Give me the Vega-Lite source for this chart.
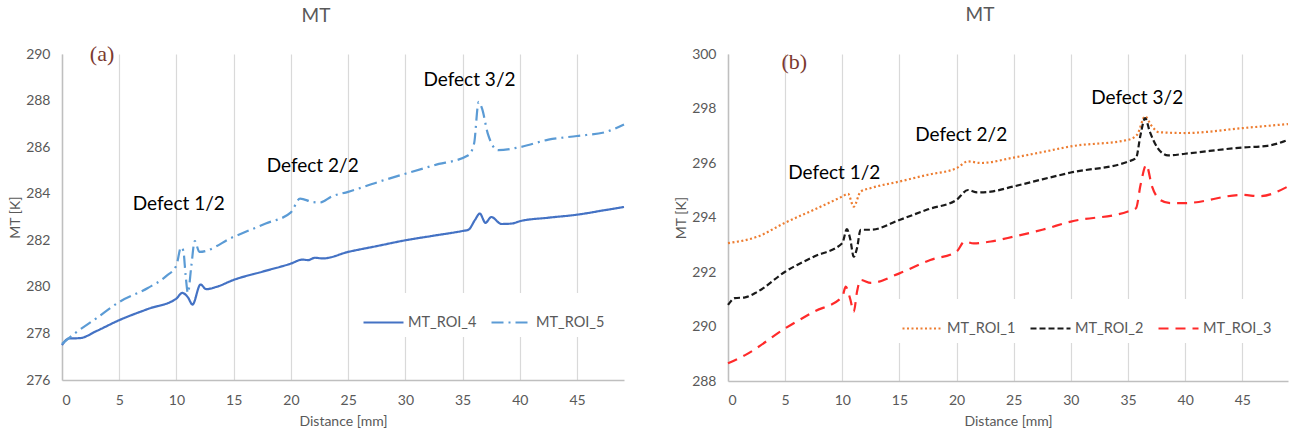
{
  "$schema": "https://vega.github.io/schema/vega-lite/v6.json",
  "padding": {"left": 8, "top": 6, "right": 4, "bottom": 2},
  "spacing": 45,
  "config": {
    "font": "Lato",
    "view": {"stroke": null},
    "axis": {
      "labelColor": "#595959", "titleColor": "#595959", "labelFont": "Lato", "titleFont": "Lato",
      "labelFontSize": 14, "titleFontSize": 14, "titleFontWeight": "normal",
      "domainColor": "#BFBFBF", "domainWidth": 1.5, "ticks": false, "gridColor": "#D9D9D9", "gridWidth": 1.2
    },
    "legend": {
      "labelFont": "Lato", "labelFontSize": 14.5, "labelColor": "#595959", "symbolType": "stroke",
      "symbolSize": 1600, "symbolStrokeWidth": 2.2, "labelOffset": 3, "columnPadding": 10,
      "fillColor": "white", "padding": 8, "direction": "horizontal", "orient": "none", "title": null
    }
  },
  "resolve": {
    "scale": {"x": "independent", "y": "independent", "color": "independent", "strokeDash": "independent"},
    "legend": {"color": "independent", "strokeDash": "independent"}
  },
  "datasets": {
    "a": [
      {"series": "MT_ROI_4", "d": 0, "mt": 277.5},
      {"series": "MT_ROI_4", "d": 0.6, "mt": 277.78},
      {"series": "MT_ROI_4", "d": 1.6, "mt": 277.8},
      {"series": "MT_ROI_4", "d": 3, "mt": 278.1},
      {"series": "MT_ROI_4", "d": 5, "mt": 278.57},
      {"series": "MT_ROI_4", "d": 7.5, "mt": 279.05},
      {"series": "MT_ROI_4", "d": 10, "mt": 279.5},
      {"series": "MT_ROI_4", "d": 10.5, "mt": 279.74},
      {"series": "MT_ROI_4", "d": 11, "mt": 279.55},
      {"series": "MT_ROI_4", "d": 11.4, "mt": 279.24},
      {"series": "MT_ROI_4", "d": 12.1, "mt": 280.1},
      {"series": "MT_ROI_4", "d": 12.6, "mt": 279.9},
      {"series": "MT_ROI_4", "d": 13.5, "mt": 280.0},
      {"series": "MT_ROI_4", "d": 15, "mt": 280.3},
      {"series": "MT_ROI_4", "d": 17.5, "mt": 280.65},
      {"series": "MT_ROI_4", "d": 20, "mt": 281.0},
      {"series": "MT_ROI_4", "d": 21, "mt": 281.17},
      {"series": "MT_ROI_4", "d": 21.5, "mt": 281.15},
      {"series": "MT_ROI_4", "d": 22.1, "mt": 281.25},
      {"series": "MT_ROI_4", "d": 22.8, "mt": 281.22},
      {"series": "MT_ROI_4", "d": 25, "mt": 281.5},
      {"series": "MT_ROI_4", "d": 27.5, "mt": 281.75},
      {"series": "MT_ROI_4", "d": 30, "mt": 282.0},
      {"series": "MT_ROI_4", "d": 32.5, "mt": 282.2},
      {"series": "MT_ROI_4", "d": 35, "mt": 282.4},
      {"series": "MT_ROI_4", "d": 35.5, "mt": 282.45},
      {"series": "MT_ROI_4", "d": 36.1, "mt": 282.89},
      {"series": "MT_ROI_4", "d": 36.5, "mt": 283.15},
      {"series": "MT_ROI_4", "d": 37, "mt": 282.75},
      {"series": "MT_ROI_4", "d": 37.5, "mt": 283.0},
      {"series": "MT_ROI_4", "d": 38.4, "mt": 282.7},
      {"series": "MT_ROI_4", "d": 39.3, "mt": 282.72},
      {"series": "MT_ROI_4", "d": 40, "mt": 282.82},
      {"series": "MT_ROI_4", "d": 42.5, "mt": 282.97},
      {"series": "MT_ROI_4", "d": 45, "mt": 283.1},
      {"series": "MT_ROI_4", "d": 47.5, "mt": 283.3},
      {"series": "MT_ROI_4", "d": 49.1, "mt": 283.43},
      {"series": "MT_ROI_5", "d": 0, "mt": 277.55},
      {"series": "MT_ROI_5", "d": 1.2, "mt": 278.03},
      {"series": "MT_ROI_5", "d": 3, "mt": 278.65},
      {"series": "MT_ROI_5", "d": 5, "mt": 279.35},
      {"series": "MT_ROI_5", "d": 7.5, "mt": 279.95},
      {"series": "MT_ROI_5", "d": 9.1, "mt": 280.46},
      {"series": "MT_ROI_5", "d": 10, "mt": 280.93},
      {"series": "MT_ROI_5", "d": 10.4, "mt": 281.7},
      {"series": "MT_ROI_5", "d": 10.6, "mt": 281.55},
      {"series": "MT_ROI_5", "d": 10.8, "mt": 280.5},
      {"series": "MT_ROI_5", "d": 11, "mt": 279.74},
      {"series": "MT_ROI_5", "d": 11.3, "mt": 280.9},
      {"series": "MT_ROI_5", "d": 11.6, "mt": 281.97},
      {"series": "MT_ROI_5", "d": 12, "mt": 281.5},
      {"series": "MT_ROI_5", "d": 15, "mt": 282.15},
      {"series": "MT_ROI_5", "d": 17.8, "mt": 282.72},
      {"series": "MT_ROI_5", "d": 20, "mt": 283.2},
      {"series": "MT_ROI_5", "d": 20.8, "mt": 283.79},
      {"series": "MT_ROI_5", "d": 21.9, "mt": 283.64},
      {"series": "MT_ROI_5", "d": 22.5, "mt": 283.62},
      {"series": "MT_ROI_5", "d": 23.6, "mt": 283.89},
      {"series": "MT_ROI_5", "d": 25, "mt": 284.08},
      {"series": "MT_ROI_5", "d": 27.6, "mt": 284.5},
      {"series": "MT_ROI_5", "d": 30, "mt": 284.86},
      {"series": "MT_ROI_5", "d": 32.5, "mt": 285.22},
      {"series": "MT_ROI_5", "d": 35.5, "mt": 285.65},
      {"series": "MT_ROI_5", "d": 36, "mt": 286.15},
      {"series": "MT_ROI_5", "d": 36.4, "mt": 287.94},
      {"series": "MT_ROI_5", "d": 36.7, "mt": 287.65},
      {"series": "MT_ROI_5", "d": 37.2, "mt": 286.58},
      {"series": "MT_ROI_5", "d": 38.1, "mt": 285.87},
      {"series": "MT_ROI_5", "d": 40, "mt": 286.0},
      {"series": "MT_ROI_5", "d": 42.5, "mt": 286.32},
      {"series": "MT_ROI_5", "d": 45, "mt": 286.48},
      {"series": "MT_ROI_5", "d": 47.5, "mt": 286.65},
      {"series": "MT_ROI_5", "d": 49.1, "mt": 286.97}
    ],
    "b": [
      {"series": "MT_ROI_1", "d": 0, "mt": 293.06},
      {"series": "MT_ROI_1", "d": 2.6, "mt": 293.3},
      {"series": "MT_ROI_1", "d": 5, "mt": 293.81},
      {"series": "MT_ROI_1", "d": 7.5, "mt": 294.28},
      {"series": "MT_ROI_1", "d": 10, "mt": 294.77},
      {"series": "MT_ROI_1", "d": 10.5, "mt": 294.87},
      {"series": "MT_ROI_1", "d": 11, "mt": 294.4},
      {"series": "MT_ROI_1", "d": 11.6, "mt": 294.95},
      {"series": "MT_ROI_1", "d": 12.5, "mt": 295.08},
      {"series": "MT_ROI_1", "d": 15, "mt": 295.32},
      {"series": "MT_ROI_1", "d": 17.5, "mt": 295.57},
      {"series": "MT_ROI_1", "d": 20, "mt": 295.81},
      {"series": "MT_ROI_1", "d": 21, "mt": 296.06},
      {"series": "MT_ROI_1", "d": 22.1, "mt": 296.0},
      {"series": "MT_ROI_1", "d": 25, "mt": 296.2},
      {"series": "MT_ROI_1", "d": 27.5, "mt": 296.4},
      {"series": "MT_ROI_1", "d": 30, "mt": 296.61},
      {"series": "MT_ROI_1", "d": 35, "mt": 296.85},
      {"series": "MT_ROI_1", "d": 35.8, "mt": 297.04},
      {"series": "MT_ROI_1", "d": 36.5, "mt": 297.71},
      {"series": "MT_ROI_1", "d": 37, "mt": 297.4},
      {"series": "MT_ROI_1", "d": 37.7, "mt": 297.13},
      {"series": "MT_ROI_1", "d": 40, "mt": 297.1},
      {"series": "MT_ROI_1", "d": 45, "mt": 297.28},
      {"series": "MT_ROI_1", "d": 49, "mt": 297.43},
      {"series": "MT_ROI_2", "d": 0, "mt": 290.79},
      {"series": "MT_ROI_2", "d": 0.6, "mt": 291.04},
      {"series": "MT_ROI_2", "d": 1.5, "mt": 291.07},
      {"series": "MT_ROI_2", "d": 2.6, "mt": 291.28},
      {"series": "MT_ROI_2", "d": 5, "mt": 292.01},
      {"series": "MT_ROI_2", "d": 7.5, "mt": 292.56},
      {"series": "MT_ROI_2", "d": 10, "mt": 293.06},
      {"series": "MT_ROI_2", "d": 10.4, "mt": 293.57},
      {"series": "MT_ROI_2", "d": 10.7, "mt": 293.2},
      {"series": "MT_ROI_2", "d": 11, "mt": 292.56},
      {"series": "MT_ROI_2", "d": 11.3, "mt": 292.9},
      {"series": "MT_ROI_2", "d": 11.6, "mt": 293.55},
      {"series": "MT_ROI_2", "d": 12.5, "mt": 293.55},
      {"series": "MT_ROI_2", "d": 15, "mt": 293.91},
      {"series": "MT_ROI_2", "d": 17.5, "mt": 294.3},
      {"series": "MT_ROI_2", "d": 20, "mt": 294.65},
      {"series": "MT_ROI_2", "d": 21, "mt": 295.01},
      {"series": "MT_ROI_2", "d": 21.8, "mt": 294.92},
      {"series": "MT_ROI_2", "d": 23, "mt": 294.95},
      {"series": "MT_ROI_2", "d": 25, "mt": 295.14},
      {"series": "MT_ROI_2", "d": 27.5, "mt": 295.4},
      {"series": "MT_ROI_2", "d": 30, "mt": 295.65},
      {"series": "MT_ROI_2", "d": 35, "mt": 296.05},
      {"series": "MT_ROI_2", "d": 35.7, "mt": 296.18},
      {"series": "MT_ROI_2", "d": 36.1, "mt": 297.04},
      {"series": "MT_ROI_2", "d": 36.5, "mt": 297.65},
      {"series": "MT_ROI_2", "d": 36.9, "mt": 297.16},
      {"series": "MT_ROI_2", "d": 37.6, "mt": 296.55},
      {"series": "MT_ROI_2", "d": 38.5, "mt": 296.28},
      {"series": "MT_ROI_2", "d": 40, "mt": 296.34},
      {"series": "MT_ROI_2", "d": 45, "mt": 296.57},
      {"series": "MT_ROI_2", "d": 47.2, "mt": 296.63},
      {"series": "MT_ROI_2", "d": 49, "mt": 296.85},
      {"series": "MT_ROI_3", "d": 0, "mt": 288.65},
      {"series": "MT_ROI_3", "d": 1.5, "mt": 288.95},
      {"series": "MT_ROI_3", "d": 5, "mt": 289.93},
      {"series": "MT_ROI_3", "d": 7.5, "mt": 290.54},
      {"series": "MT_ROI_3", "d": 10, "mt": 291.09},
      {"series": "MT_ROI_3", "d": 10.3, "mt": 291.46},
      {"series": "MT_ROI_3", "d": 10.7, "mt": 291.0},
      {"series": "MT_ROI_3", "d": 11, "mt": 290.54},
      {"series": "MT_ROI_3", "d": 11.3, "mt": 291.3},
      {"series": "MT_ROI_3", "d": 11.6, "mt": 291.71},
      {"series": "MT_ROI_3", "d": 12.5, "mt": 291.6},
      {"series": "MT_ROI_3", "d": 15, "mt": 291.95},
      {"series": "MT_ROI_3", "d": 17.7, "mt": 292.44},
      {"series": "MT_ROI_3", "d": 20, "mt": 292.75},
      {"series": "MT_ROI_3", "d": 20.7, "mt": 293.12},
      {"series": "MT_ROI_3", "d": 21.5, "mt": 293.05},
      {"series": "MT_ROI_3", "d": 23, "mt": 293.12},
      {"series": "MT_ROI_3", "d": 25, "mt": 293.3},
      {"series": "MT_ROI_3", "d": 27.5, "mt": 293.55},
      {"series": "MT_ROI_3", "d": 30, "mt": 293.85},
      {"series": "MT_ROI_3", "d": 35, "mt": 294.22},
      {"series": "MT_ROI_3", "d": 35.7, "mt": 294.34},
      {"series": "MT_ROI_3", "d": 36.1, "mt": 295.2},
      {"series": "MT_ROI_3", "d": 36.6, "mt": 295.93},
      {"series": "MT_ROI_3", "d": 37.1, "mt": 295.14},
      {"series": "MT_ROI_3", "d": 37.8, "mt": 294.65},
      {"series": "MT_ROI_3", "d": 38.7, "mt": 294.53},
      {"series": "MT_ROI_3", "d": 40, "mt": 294.53},
      {"series": "MT_ROI_3", "d": 45, "mt": 294.83},
      {"series": "MT_ROI_3", "d": 46.5, "mt": 294.78},
      {"series": "MT_ROI_3", "d": 49, "mt": 295.14}
    ],
    "notesA": [
      {"label": "Defect 1/2", "d": 10.2, "mt": 283.56},
      {"label": "Defect 2/2", "d": 21.9, "mt": 285.2},
      {"label": "Defect 3/2", "d": 35.6, "mt": 288.9}
    ],
    "notesB": [
      {"label": "Defect 1/2", "d": 9.3, "mt": 295.65},
      {"label": "Defect 2/2", "d": 20.4, "mt": 297.04},
      {"label": "Defect 3/2", "d": 35.8, "mt": 298.4}
    ],
    "tagA": [{"label": "(a)", "d": 3.5, "mt": 290}],
    "tagB": [{"label": "(b)", "d": 5.8, "mt": 299.7}]
  },
  "hconcat": [
    {
      "width": 562,
      "height": 326,
      "title": {"text": "MT", "fontSize": 19, "color": "#595959", "fontWeight": "normal", "font": "Lato", "offset": 17, "dx": -27},
      "layer": [
        {
          "data": {"name": "a"},
          "mark": {"type": "line", "interpolate": "monotone", "strokeWidth": 2.2},
          "encoding": {
            "x": {"field": "d", "type": "quantitative", "scale": {"domain": [0, 49.1], "nice": false},
                  "axis": {"values": [0, 5, 10, 15, 20, 25, 30, 35, 40, 45], "title": "Distance [mm]", "grid": true, "labelPadding": 13, "titlePadding": 7}},
            "y": {"field": "mt", "type": "quantitative", "scale": {"domain": [276, 290], "nice": false, "zero": false},
                  "axis": {"values": [276, 278, 280, 282, 284, 286, 288, 290], "grid": false, "title": "MT [K]", "labelPadding": 12, "titlePadding": 3}},
            "color": {"field": "series", "type": "nominal", "scale": {"domain": ["MT_ROI_4", "MT_ROI_5"], "range": ["#4472C4", "#5B9BD5"]},
                      "legend": {"legendX": 292, "legendY": 239}},
            "strokeDash": {"field": "series", "type": "nominal", "scale": {"domain": ["MT_ROI_4", "MT_ROI_5"], "range": [[1, 0], [12, 5, 2, 5]]},
                      "legend": {"legendX": 292, "legendY": 239}}
          }
        },
        {
          "data": {"name": "notesA"},
          "mark": {"type": "text", "fontSize": 19, "color": "#000000", "font": "Lato"},
          "encoding": {
            "x": {"field": "d", "type": "quantitative"},
            "y": {"field": "mt", "type": "quantitative"},
            "text": {"field": "label"}
          }
        },
        {
          "data": {"name": "tagA"},
          "mark": {"type": "text", "fontSize": 22, "color": "#7B3A30", "font": "Liberation Serif"},
          "encoding": {
            "x": {"field": "d", "type": "quantitative"},
            "y": {"field": "mt", "type": "quantitative"},
            "text": {"field": "label"}
          }
        }
      ]
    },
    {
      "width": 560,
      "height": 327,
      "title": {"text": "MT", "fontSize": 19, "color": "#595959", "fontWeight": "normal", "font": "Lato", "offset": 22, "dx": -28},
      "layer": [
        {
          "data": {"name": "b"},
          "mark": {"type": "line", "interpolate": "monotone", "strokeWidth": 2.2},
          "encoding": {
            "x": {"field": "d", "type": "quantitative", "scale": {"domain": [0, 49], "nice": false},
                  "axis": {"values": [0, 5, 10, 15, 20, 25, 30, 35, 40, 45], "title": "Distance [mm]", "grid": true, "labelPadding": 12, "titlePadding": 7}},
            "y": {"field": "mt", "type": "quantitative", "scale": {"domain": [288, 300], "nice": false, "zero": false},
                  "axis": {"values": [288, 290, 292, 294, 296, 298, 300], "grid": false, "title": "MT [K]", "labelPadding": 12, "titlePadding": 3}},
            "color": {"field": "series", "type": "nominal", "scale": {"domain": ["MT_ROI_1", "MT_ROI_2", "MT_ROI_3"], "range": ["#ED7D31", "#1A1A1A", "#FF2A2A"]},
                      "legend": {"legendX": 165, "legendY": 245}},
            "strokeDash": {"field": "series", "type": "nominal", "scale": {"domain": ["MT_ROI_1", "MT_ROI_2", "MT_ROI_3"], "range": [[2, 2.5], [6, 3], [10, 7]]},
                      "legend": {"legendX": 165, "legendY": 245}}
          }
        },
        {
          "data": {"name": "notesB"},
          "mark": {"type": "text", "fontSize": 19, "color": "#000000", "font": "Lato"},
          "encoding": {
            "x": {"field": "d", "type": "quantitative"},
            "y": {"field": "mt", "type": "quantitative"},
            "text": {"field": "label"}
          }
        },
        {
          "data": {"name": "tagB"},
          "mark": {"type": "text", "fontSize": 22, "color": "#7B3A30", "font": "Liberation Serif"},
          "encoding": {
            "x": {"field": "d", "type": "quantitative"},
            "y": {"field": "mt", "type": "quantitative"},
            "text": {"field": "label"}
          }
        }
      ]
    }
  ]
}
